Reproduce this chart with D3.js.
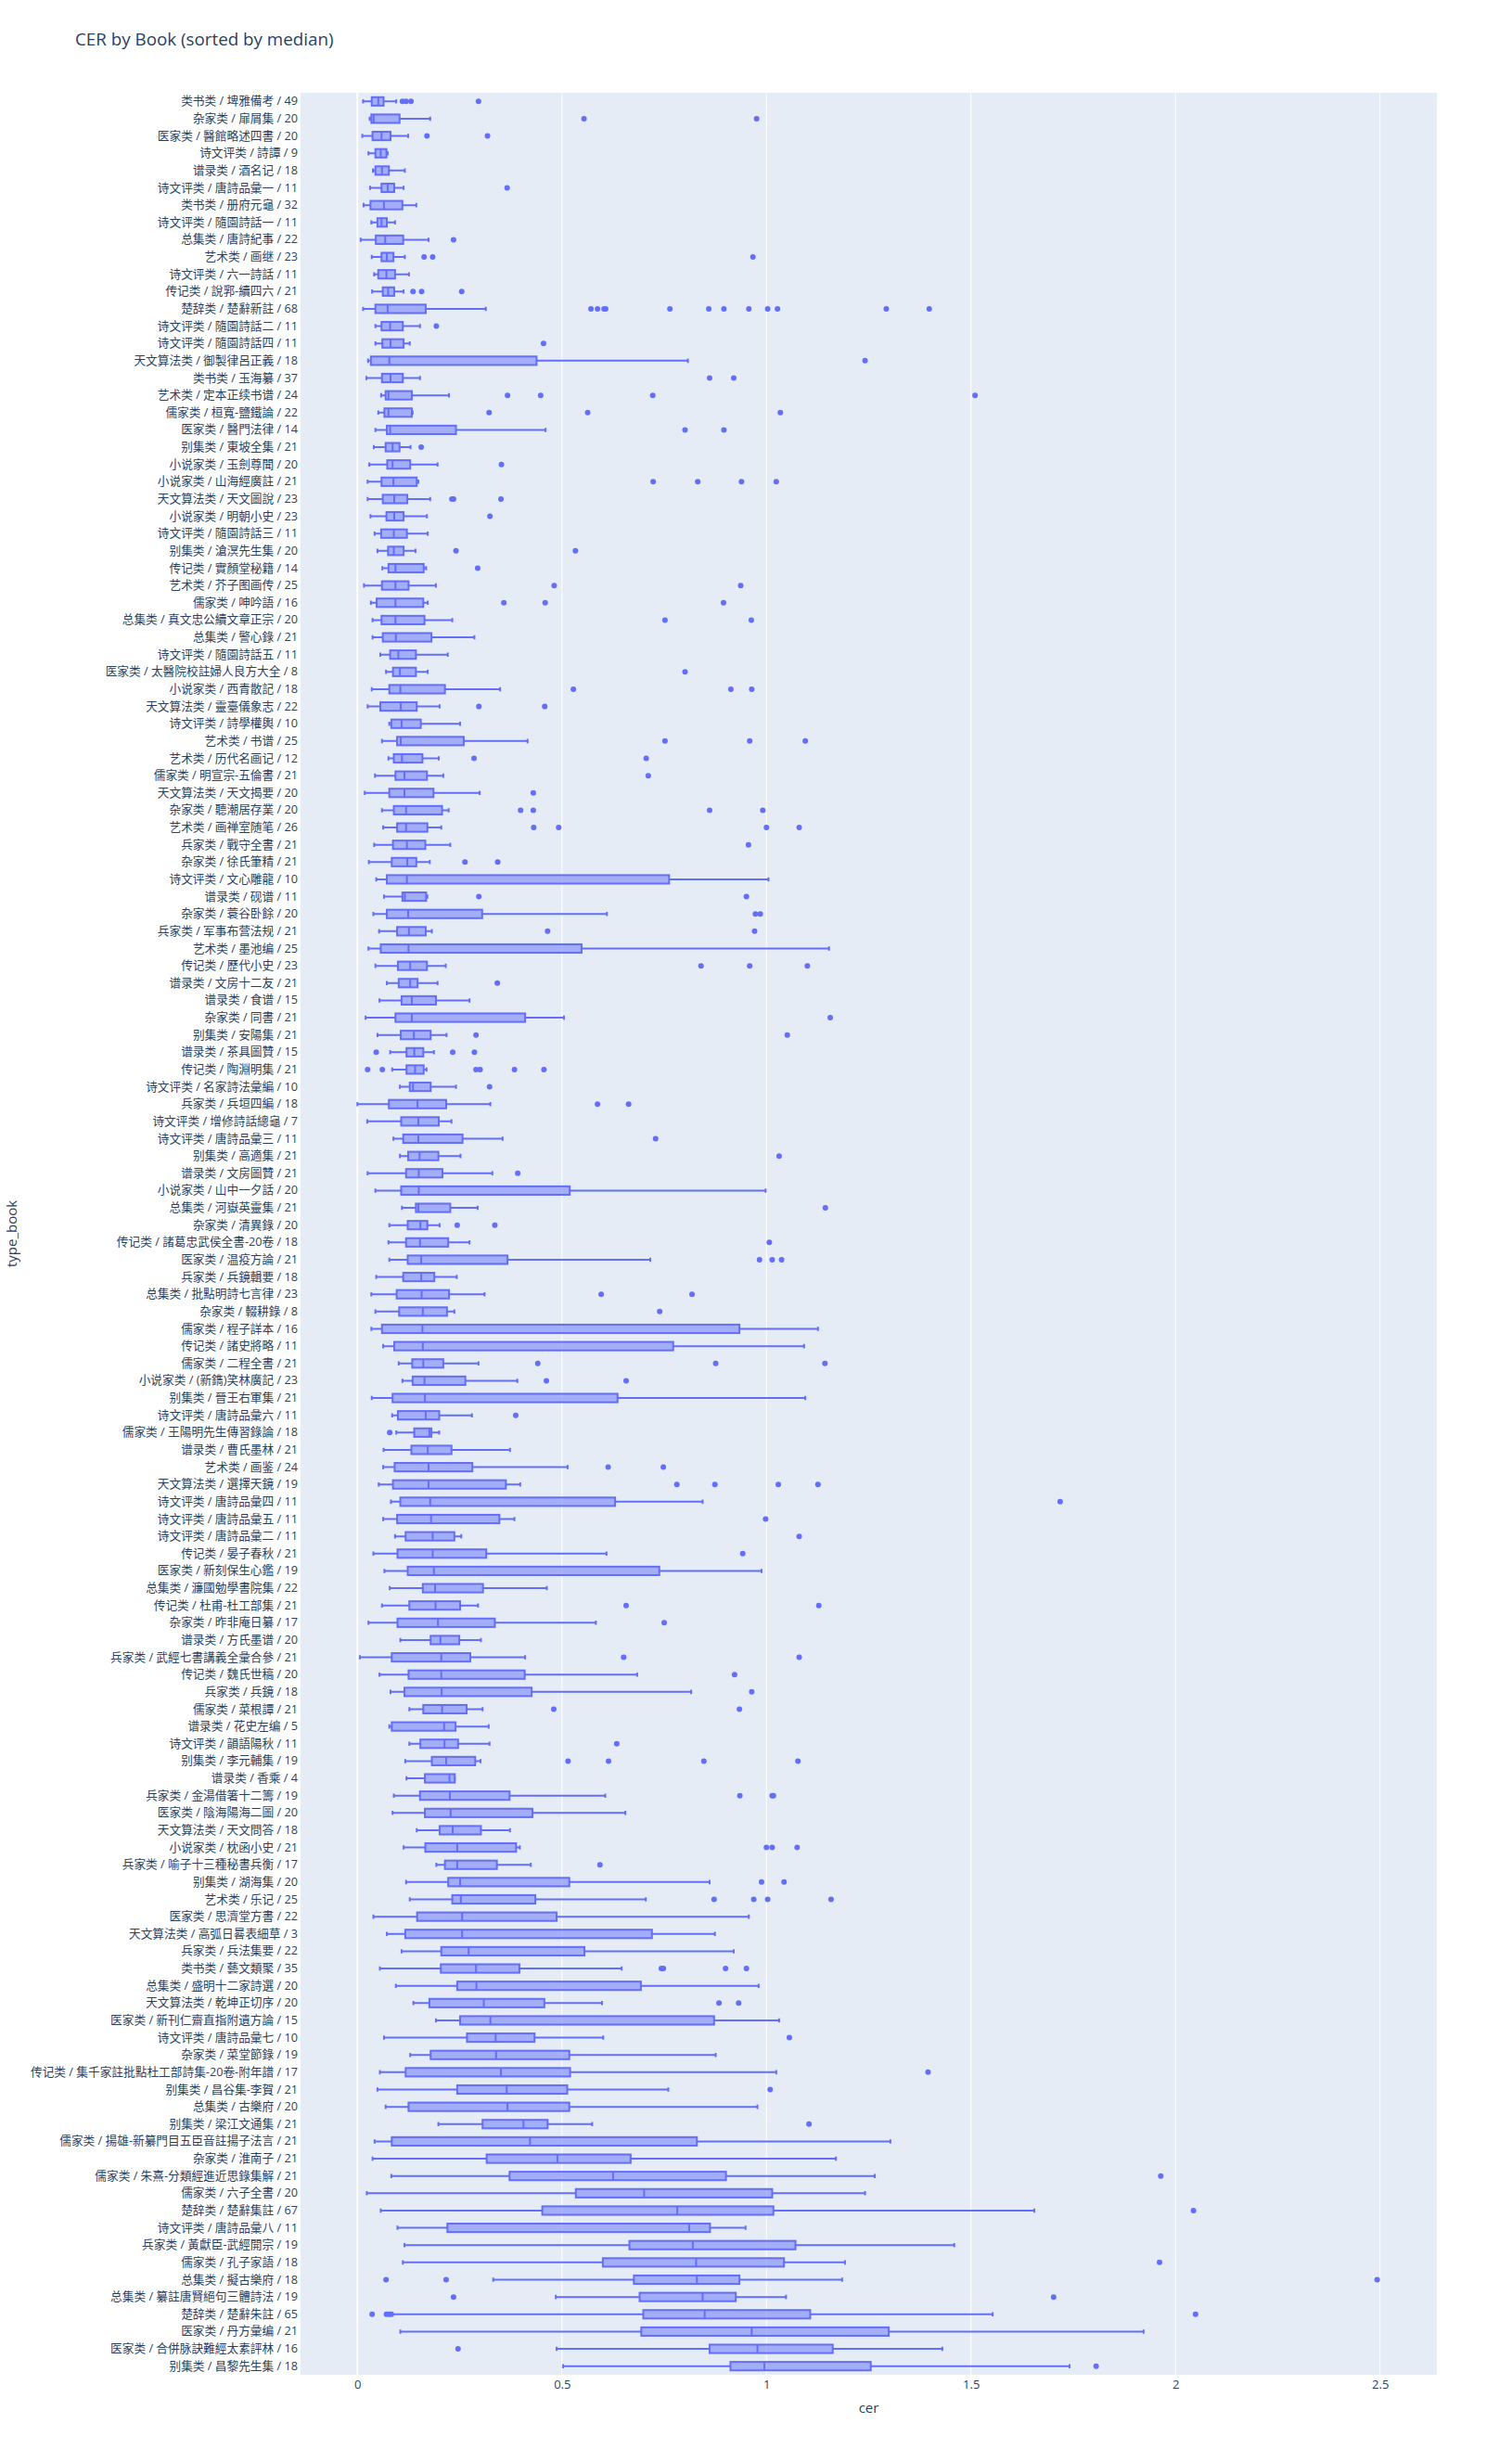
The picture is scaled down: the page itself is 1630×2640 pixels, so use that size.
<!DOCTYPE html>
<html>
<head>
<meta charset="utf-8">
<script src="https://cdn.jsdelivr.net/npm/d3@7"></script>
<style>
  html, body { margin: 0; padding: 0; background: #fff; }
  svg text { font-family: "Open Sans", "Noto Sans CJK SC", "Noto Sans", sans-serif; fill: #2a3f5f; }
</style>
</head>
<body>
<svg id="chart" width="1630" height="2640"></svg>
<script>
const categories = [
"类书类 / 埤雅備考 / 49","杂家类 / 扉屑集 / 20","医家类 / 醫館略述四書 / 20","诗文评类 / 詩譚 / 9","谱录类 / 酒名记 / 18",
"诗文评类 / 唐詩品彙一 / 11","类书类 / 册府元龜 / 32","诗文评类 / 隨園詩話一 / 11","总集类 / 唐詩紀事 / 22","艺术类 / 画继 / 23",
"诗文评类 / 六一詩話 / 11","传记类 / 說郛-續四六 / 21","楚辞类 / 楚辭新註 / 68","诗文评类 / 隨園詩話二 / 11","诗文评类 / 隨園詩話四 / 11",
"天文算法类 / 御製律呂正義 / 18","类书类 / 玉海纂 / 37","艺术类 / 定本正续书谱 / 24","儒家类 / 桓寬-鹽鐵論 / 22","医家类 / 醫門法律 / 14",
"别集类 / 東坡全集 / 21","小说家类 / 玉劍尊聞 / 20","小说家类 / 山海經廣註 / 21","天文算法类 / 天文圖說 / 23","小说家类 / 明朝小史 / 23",
"诗文评类 / 隨園詩話三 / 11","别集类 / 滄溟先生集 / 20","传记类 / 實顏堂秘籍 / 14","艺术类 / 芥子图画传 / 25","儒家类 / 呻吟語 / 16",
"总集类 / 真文忠公續文章正宗 / 20","总集类 / 警心錄 / 21","诗文评类 / 隨園詩話五 / 11","医家类 / 太醫院校註婦人良方大全 / 8","小说家类 / 西青散記 / 18",
"天文算法类 / 靈臺儀象志 / 22","诗文评类 / 詩學權輿 / 10","艺术类 / 书谱 / 25","艺术类 / 历代名画记 / 12","儒家类 / 明宣宗-五倫書 / 21",
"天文算法类 / 天文揭要 / 20","杂家类 / 聽潮居存業 / 20","艺术类 / 画禅室随笔 / 26","兵家类 / 戰守全書 / 21","杂家类 / 徐氏筆精 / 21",
"诗文评类 / 文心雕龍 / 10","谱录类 / 砚谱 / 11","杂家类 / 蓑谷卧餘 / 20","兵家类 / 军事布营法规 / 21","艺术类 / 墨池编 / 25",
"传记类 / 歷代小史 / 23","谱录类 / 文房十二友 / 21","谱录类 / 食谱 / 15","杂家类 / 同書 / 21","别集类 / 安陽集 / 21",
"谱录类 / 茶具圖贊 / 15","传记类 / 陶淵明集 / 21","诗文评类 / 名家詩法彙編 / 10","兵家类 / 兵垣四編 / 18","诗文评类 / 增修詩話總龜 / 7",
"诗文评类 / 唐詩品彙三 / 11","别集类 / 高適集 / 21","谱录类 / 文房圖贊 / 21","小说家类 / 山中一夕話 / 20","总集类 / 河嶽英靈集 / 21",
"杂家类 / 清異錄 / 20","传记类 / 諸葛忠武侯全書-20卷 / 18","医家类 / 温疫方論 / 21","兵家类 / 兵鏡輯要 / 18","总集类 / 批點明詩七言律 / 23",
"杂家类 / 輟耕錄 / 8","儒家类 / 程子詳本 / 16","传记类 / 諸史將略 / 11","儒家类 / 二程全書 / 21","小说家类 / (新鐫)笑林廣記 / 23",
"别集类 / 晉王右軍集 / 21","诗文评类 / 唐詩品彙六 / 11","儒家类 / 王陽明先生傳習錄論 / 18","谱录类 / 曹氏墨林 / 21","艺术类 / 画鉴 / 24",
"天文算法类 / 選擇天鏡 / 19","诗文评类 / 唐詩品彙四 / 11","诗文评类 / 唐詩品彙五 / 11","诗文评类 / 唐詩品彙二 / 11","传记类 / 晏子春秋 / 21",
"医家类 / 新刻保生心鑑 / 19","总集类 / 濂國勉學書院集 / 22","传记类 / 杜甫-杜工部集 / 21","杂家类 / 昨非庵日纂 / 17","谱录类 / 方氏墨谱 / 20",
"兵家类 / 武經七書講義全彙合參 / 21","传记类 / 魏氏世稿 / 20","兵家类 / 兵鏡 / 18","儒家类 / 菜根譚 / 21","谱录类 / 花史左编 / 5",
"诗文评类 / 韻語陽秋 / 11","别集类 / 李元輔集 / 19","谱录类 / 香乘 / 4","兵家类 / 金湯借箸十二籌 / 19","医家类 / 陰海陽海二圖 / 20",
"天文算法类 / 天文問答 / 18","小说家类 / 枕函小史 / 21","兵家类 / 喻子十三種秘書兵衡 / 17","别集类 / 湖海集 / 20","艺术类 / 乐记 / 25",
"医家类 / 思濟堂方書 / 22","天文算法类 / 高弧日晷表細草 / 3","兵家类 / 兵法集要 / 22","类书类 / 藝文類聚 / 35","总集类 / 盛明十二家詩選 / 20",
"天文算法类 / 乾坤正切序 / 20","医家类 / 新刊仁齋直指附遺方論 / 15","诗文评类 / 唐詩品彙七 / 10","杂家类 / 菜堂節錄 / 19","传记类 / 集千家註批點杜工部詩集-20卷-附年譜 / 17",
"别集类 / 昌谷集-李賀 / 21","总集类 / 古樂府 / 20","别集类 / 梁江文通集 / 21","儒家类 / 揚雄-新纂門目五臣音註揚子法言 / 21","杂家类 / 淮南子 / 21",
"儒家类 / 朱熹-分類經進近思錄集解 / 21","儒家类 / 六子全書 / 20","楚辞类 / 楚辭集註 / 67","诗文评类 / 唐詩品彙八 / 11","兵家类 / 黃獻臣-武經開宗 / 19",
"儒家类 / 孔子家語 / 18","总集类 / 擬古樂府 / 18","总集类 / 纂註唐賢絕句三體詩法 / 19","楚辞类 / 楚辭朱註 / 65","医家类 / 丹方彙编 / 21",
"医家类 / 合併脉訣難經太素評林 / 16","别集类 / 昌黎先生集 / 18"
];

const lowerWhisker = [
0.014,0.030,0.012,0.027,0.038, 0.031,0.015,0.034,0.008,0.035, 0.041,0.036,0.014,0.044,0.044,
0.026,0.022,0.058,0.051,0.044, 0.040,0.029,0.025,0.025,0.032, 0.042,0.049,0.061,0.016,0.033,
0.037,0.037,0.056,0.070,0.035, 0.025,0.078,0.060,0.076,0.043, 0.018,0.060,0.063,0.041,0.028,
0.046,0.065,0.039,0.053,0.027, 0.044,0.072,0.054,0.020,0.049, 0.080,0.085,0.104,0.000,0.024,
0.088,0.104,0.025,0.044,0.109, 0.078,0.076,0.078,0.046,0.034, 0.044,0.034,0.063,0.101,0.110,
0.035,0.085,0.095,0.064,0.063, 0.052,0.082,0.063,0.092,0.039, 0.066,0.079,0.060,0.027,0.105,
0.006,0.054,0.081,0.127,0.078, 0.127,0.117,0.120,0.089,0.086, 0.145,0.113,0.193,0.119,0.128,
0.039,0.072,0.108,0.055,0.094, 0.137,0.192,0.065,0.129,0.055, 0.049,0.069,0.198,0.042,0.037,
0.083,0.023,0.057,0.098,0.115, 0.111,0.332,0.485,0.085,0.105, 0.487,0.503
];

const q1 = [
0.035,0.034,0.037,0.044,0.044, 0.059,0.032,0.049,0.045,0.059, 0.051,0.062,0.044,0.059,0.061,
0.033,0.060,0.069,0.066,0.072, 0.069,0.073,0.059,0.062,0.071, 0.058,0.075,0.076,0.060,0.047,
0.059,0.062,0.080,0.087,0.078, 0.056,0.083,0.097,0.089,0.093, 0.078,0.089,0.097,0.087,0.084,
0.072,0.110,0.072,0.097,0.057, 0.099,0.101,0.108,0.093,0.106, 0.120,0.120,0.128,0.077,0.107,
0.112,0.124,0.119,0.107,0.143, 0.123,0.119,0.123,0.112,0.096, 0.102,0.060,0.090,0.134,0.135,
0.086,0.099,0.139,0.132,0.091, 0.087,0.105,0.097,0.118,0.098, 0.123,0.160,0.127,0.098,0.179,
0.084,0.125,0.115,0.161,0.084, 0.154,0.182,0.165,0.153,0.165, 0.201,0.166,0.214,0.222,0.232,
0.146,0.117,0.205,0.204,0.244, 0.176,0.251,0.268,0.179,0.118, 0.244,0.125,0.306,0.084,0.316,
0.372,0.534,0.452,0.220,0.665, 0.600,0.676,0.690,0.699,0.694, 0.861,0.912
];

const median = [
0.051,0.040,0.059,0.057,0.060, 0.074,0.065,0.059,0.068,0.072, 0.071,0.075,0.074,0.080,0.081,
0.078,0.081,0.076,0.076,0.080, 0.086,0.086,0.088,0.090,0.090, 0.089,0.089,0.093,0.093,0.093,
0.093,0.094,0.100,0.104,0.105, 0.106,0.108,0.106,0.109,0.115, 0.115,0.119,0.119,0.121,0.122,
0.121,0.116,0.124,0.126,0.125, 0.129,0.129,0.133,0.133,0.138, 0.139,0.141,0.136,0.147,0.149,
0.149,0.152,0.150,0.150,0.149, 0.154,0.153,0.156,0.156,0.157, 0.160,0.159,0.160,0.161,0.164,
0.165,0.167,0.176,0.172,0.174, 0.174,0.178,0.180,0.184,0.184, 0.187,0.190,0.191,0.197,0.203,
0.205,0.205,0.206,0.207,0.212, 0.213,0.217,0.225,0.226,0.228, 0.233,0.244,0.244,0.251,0.253,
0.256,0.256,0.272,0.290,0.291, 0.309,0.325,0.338,0.339,0.351, 0.365,0.367,0.406,0.422,0.489,
0.625,0.701,0.782,0.811,0.820, 0.828,0.830,0.844,0.849,0.964, 0.978,0.995
];

const q3 = [
0.064,0.103,0.081,0.071,0.077, 0.090,0.110,0.072,0.112,0.088, 0.092,0.090,0.167,0.111,0.113,
0.438,0.111,0.133,0.133,0.241, 0.103,0.129,0.145,0.122,0.113, 0.121,0.113,0.162,0.125,0.161,
0.164,0.181,0.143,0.143,0.214, 0.145,0.155,0.260,0.159,0.170, 0.186,0.207,0.171,0.166,0.144,
0.762,0.168,0.305,0.167,0.548, 0.170,0.147,0.192,0.410,0.179, 0.161,0.162,0.179,0.217,0.199,
0.257,0.198,0.208,0.519,0.227, 0.171,0.222,0.367,0.188,0.224, 0.219,0.934,0.772,0.210,0.264,
0.636,0.200,0.181,0.230,0.281, 0.363,0.630,0.347,0.237,0.315, 0.738,0.307,0.251,0.336,0.249,
0.276,0.409,0.426,0.267,0.240, 0.246,0.288,0.238,0.372,0.428, 0.302,0.388,0.341,0.518,0.435,
0.487,0.720,0.555,0.396,0.693, 0.457,0.872,0.433,0.518,0.520, 0.513,0.518,0.465,0.830,0.668,
0.901,1.014,1.017,0.862,1.071, 1.043,0.934,0.925,1.107,1.299, 1.162,1.255
];

const upperWhisker = [
0.095,0.178,0.124,0.074,0.116, 0.113,0.144,0.092,0.174,0.116, 0.126,0.113,0.314,0.153,0.128,
0.808,0.153,0.224,0.135,0.460, 0.130,0.196,0.149,0.178,0.170, 0.172,0.142,0.168,0.192,0.172,
0.232,0.286,0.221,0.172,0.349, 0.201,0.251,0.416,0.199,0.210, 0.299,0.223,0.205,0.227,0.177,
1.005,0.171,0.610,0.182,1.153, 0.216,0.196,0.274,0.505,0.218, 0.187,0.169,0.241,0.325,0.230,
0.355,0.252,0.330,0.998,0.294, 0.201,0.274,0.716,0.243,0.311, 0.237,1.126,1.092,0.296,0.391,
1.095,0.280,0.200,0.373,0.514, 0.398,0.844,0.384,0.254,0.609, 0.988,0.463,0.295,0.583,0.302,
0.410,0.684,0.816,0.306,0.321, 0.323,0.301,0.238,0.606,0.655, 0.373,0.397,0.424,0.861,0.705,
0.957,0.874,0.920,0.646,0.981, 0.598,1.031,0.601,0.876,1.024, 0.760,0.978,0.574,1.303,1.170,
1.265,1.241,1.655,0.949,1.459, 1.192,1.185,1.048,1.553,1.922, 1.430,1.741
];

const outliers = [
[0.110,0.119,0.131,0.296],[0.554,0.976],[0.170,0.318],[],[],
[0.366],[],[],[0.235],[0.163,0.184,0.967],
[],[0.136,0.157,0.255],[0.571,0.587,0.603,0.607,0.764,0.859,0.896,0.957,1.003,1.027,1.293,1.398],[0.193],[0.455],
[1.241],[0.861,0.920],[0.367,0.448,0.722,1.510],[0.322,0.563,1.034],[0.801,0.896],
[0.156],[0.352],[0.723,0.832,0.939,1.024],[0.231,0.235,0.351],[0.324],
[],[0.241,0.533],[0.294],[0.481,0.937],[0.358,0.459,0.895],
[0.752,0.963],[],[],[0.801],[0.528,0.913,0.964],
[0.297,0.458],[],[0.752,0.959,1.095],[0.285,0.706],[0.711],
[0.430],[0.399,0.430,0.861,0.991],[0.431,0.492,1.000,1.080],[0.956],[0.263,0.343],
[],[0.297,0.951],[0.973,0.985],[0.465,0.971],[],
[0.840,0.959,1.100],[0.342],[],[1.156],[0.290,1.051],
[0.046,0.233,0.286],[0.025,0.061,0.290,0.300,0.384,0.456],[0.323],[0.587,0.663],[],
[0.729],[1.031],[0.392],[],[1.144],
[0.244,0.336],[1.007],[0.983,1.014,1.037],[],[0.596,0.818],
[0.739],[],[],[0.441,0.876,1.143],[0.462,0.657],
[],[0.387],[0.079],[],[0.613,0.748],
[0.781,0.874,1.029,1.126],[1.718],[0.998],[1.080],[0.942],
[],[],[0.657,1.128],[0.750],[],
[0.651,1.080],[0.922],[0.964],[0.480,0.934],[],
[0.634],[0.515,0.614,0.847,1.077],[],[0.935,1.014,1.017],[],
[],[1.000,1.014,1.075],[0.593],[0.988,1.043],[0.872,0.969,1.003,1.158],
[],[],[],[0.743,0.748,0.900,0.951],[],
[0.884,0.932],[],[1.056],[],[1.395],
[1.009],[],[1.104],[],[],
[1.964],[],[2.044],[],[],
[1.961],[0.070,0.217,2.493],[0.235,1.702],[0.036,0.071,0.078,0.083,2.049],[],
[0.246],[1.806]
];

const xTicks = [0, 0.5, 1, 1.5, 2, 2.5];
const xTickLabels = ["0", "0.5", "1", "1.5", "2", "2.5"];

const rows = categories.map((c, i) => ({
  cat: c, lo: lowerWhisker[i], q1: q1[i], med: median[i], q3: q3[i], hi: upperWhisker[i], out: outliers[i]
}));

const svg = d3.select("#chart");
const W = 1630, H = 2640;
const plot = {left: 324, right: 1549, top: 100, bottom: 2560};

svg.append("rect").attr("width", W).attr("height", H).attr("fill", "#fff");
svg.append("rect")
  .attr("x", plot.left).attr("y", plot.top)
  .attr("width", plot.right - plot.left).attr("height", plot.bottom - plot.top)
  .attr("fill", "#E5ECF6");

const x = d3.scaleLinear().domain([-0.139, 2.639]).range([plot.left, plot.right]);
const y = d3.scaleBand().domain(categories).range([plot.top, plot.bottom]).paddingInner(0).paddingOuter(0);
const bw = y.bandwidth();
const boxH = bw * 0.49;
const capH = boxH * 0.5;
const cy = d => y(d) + bw / 2;

// grid lines
svg.append("g").selectAll("line").data(xTicks.filter(t => t !== 0)).join("line")
  .attr("x1", d => x(d)).attr("x2", d => x(d))
  .attr("y1", plot.top).attr("y2", plot.bottom)
  .attr("stroke", "#fff").attr("stroke-width", 1);
svg.append("line")
  .attr("x1", x(0)).attr("x2", x(0)).attr("y1", plot.top).attr("y2", plot.bottom)
  .attr("stroke", "#fff").attr("stroke-width", 2);

const color = "#636efa";
const g = svg.append("g").attr("class", "boxes");
const rowG = g.selectAll("g.row").data(rows).join("g").attr("class", "row");

// whiskers
rowG.append("path")
  .attr("d", d => {
    const c = cy(d.cat);
    return `M${x(d.lo)},${c}H${x(d.q1)}M${x(d.q3)},${c}H${x(d.hi)}` +
      `M${x(d.lo)},${c - capH / 2}V${c + capH / 2}M${x(d.hi)},${c - capH / 2}V${c + capH / 2}`;
  })
  .attr("fill", "none").attr("stroke", color).attr("stroke-width", 2);

// boxes
rowG.append("rect")
  .attr("x", d => x(d.q1))
  .attr("y", d => cy(d.cat) - boxH / 2)
  .attr("width", d => Math.max(0, x(d.q3) - x(d.q1)))
  .attr("height", boxH)
  .attr("fill", "rgba(99,110,250,0.5)")
  .attr("stroke", color).attr("stroke-width", 2);

// median
rowG.append("line")
  .attr("x1", d => x(d.med)).attr("x2", d => x(d.med))
  .attr("y1", d => cy(d.cat) - boxH / 2).attr("y2", d => cy(d.cat) + boxH / 2)
  .attr("stroke", color).attr("stroke-width", 2);

// outliers
rowG.selectAll("circle").data(d => d.out.map(v => ({v, cat: d.cat}))).join("circle")
  .attr("cx", d => x(d.v)).attr("cy", d => cy(d.cat)).attr("r", 3)
  .attr("fill", color);

// axes
const yAxis = d3.axisLeft(y).tickSize(0).tickPadding(3);
const yg = svg.append("g").attr("transform", `translate(${plot.left},0)`).call(yAxis);
yg.select(".domain").remove();
yg.selectAll("text").attr("font-size", 12.7).style("font-family", '"Open Sans", "Noto Sans CJK SC", sans-serif').attr("fill", "#2a3f5f");

const xAxis = d3.axisBottom(x).tickValues(xTicks).tickFormat((d, i) => xTickLabels[i]).tickSize(0).tickPadding(6);
const xg = svg.append("g").attr("transform", `translate(0,${plot.bottom})`).call(xAxis);
xg.select(".domain").remove();
xg.selectAll("text").attr("font-size", 13).attr("fill", "#2a3f5f");

// titles
svg.append("text").attr("x", 81).attr("y", 49)
  .attr("font-size", 18.8).text("CER by Book (sorted by median)");
svg.append("text").attr("x", (plot.left + plot.right) / 2).attr("y", 2601)
  .attr("text-anchor", "middle").attr("font-size", 15).text("cer");
svg.append("text")
  .attr("transform", `translate(18,${(plot.top + plot.bottom) / 2}) rotate(-90)`)
  .attr("text-anchor", "middle").attr("font-size", 15).text("type_book");
</script>
</body>
</html>
